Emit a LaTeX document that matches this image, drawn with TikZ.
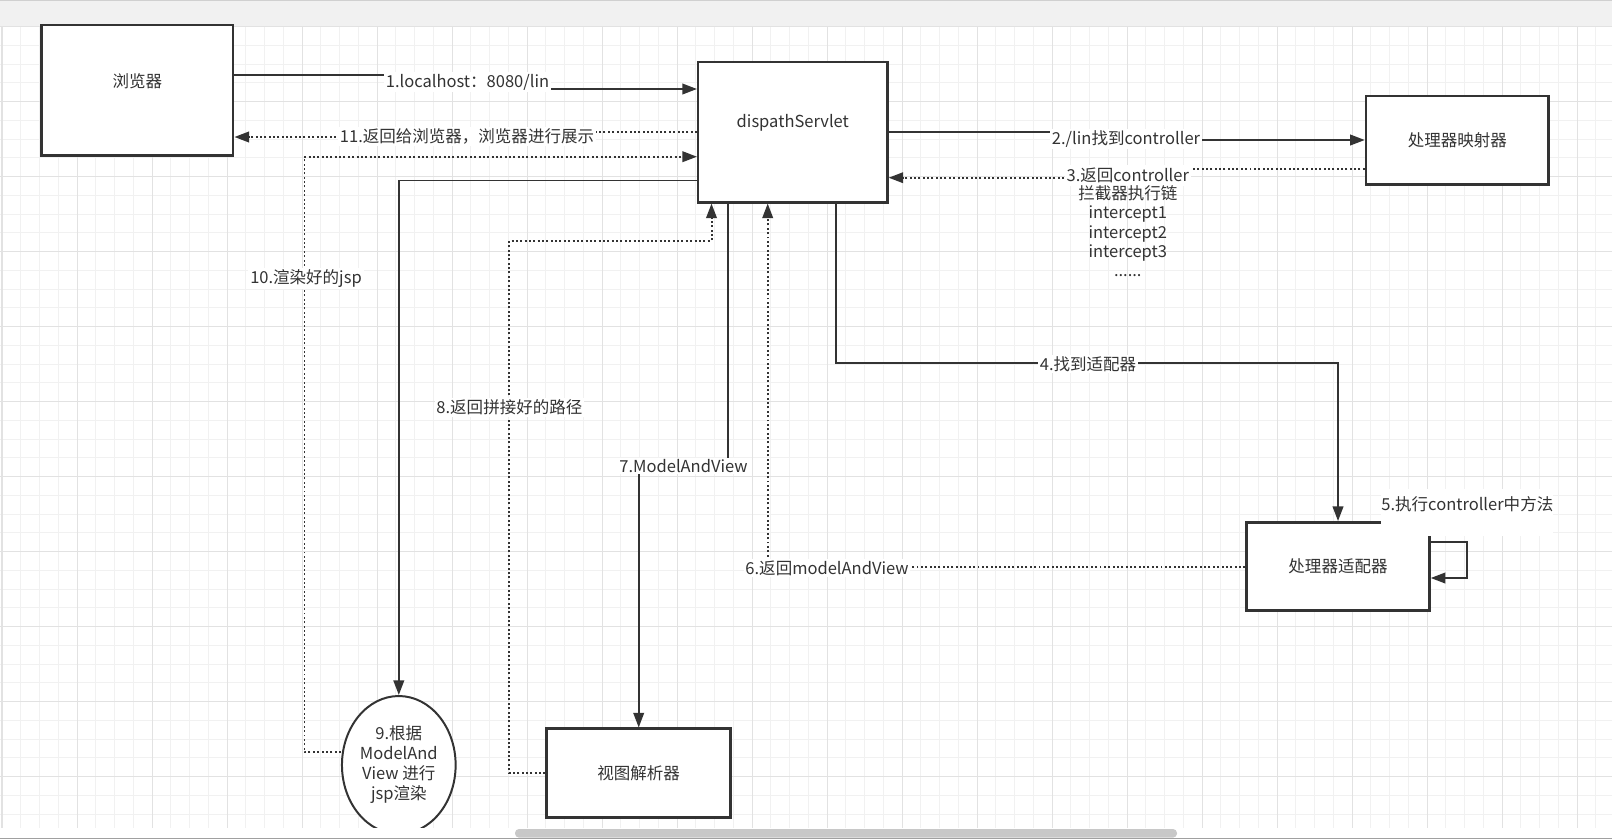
\documentclass[tikz,border=0pt]{standalone}
\usepackage{fontspec}
\setmainfont{Noto Sans CJK SC}
\usetikzlibrary{arrows.meta,calc,shapes.geometric}
\definecolor{ink}{HTML}{333333}
\definecolor{gridminor}{HTML}{F1F1F1}
\definecolor{gridmajor}{HTML}{E2E2E2}
\definecolor{topbar}{HTML}{F1F1F1}
\definecolor{topline}{HTML}{D0D0D0}
\definecolor{scrollc}{HTML}{C8C8C8}
\definecolor{botline}{HTML}{A0A0A0}
\begin{document}
\begin{tikzpicture}[x=0.02cm,y=-0.02cm,
  font=\fontsize{9.4pt}{11pt}\selectfont, text=ink,
  box/.style={draw=ink, fill=white, line width=1.42pt, rectangle, inner sep=0pt},
  edge/.style={draw=ink, line width=1.13pt, -{Triangle[length=8.3pt,width=6pt]}},
  dotedge/.style={edge, dash pattern=on 1.13pt off 1.35pt},
  elabel/.style={fill=white, inner sep=1pt, text=ink},
  gmin/.style={draw=gridminor, line width=0.57pt},
  gmaj/.style={draw=gridmajor, line width=0.57pt}]
\useasboundingbox (0,0) rectangle (1612,839);
\fill[white] (0,0) rectangle (1612,839);
% grid
\foreach \k in {0,...,85}{\pgfmathsetmacro\xx{2+18.75*\k}\draw[gmin] (\xx,26.7) -- (\xx,827.7);}
\foreach \k in {0,...,42}{\pgfmathsetmacro\yy{26.7+18.75*\k}\draw[gmin] (0,\yy) -- (1612,\yy);}
\foreach \k in {0,...,21}{\pgfmathsetmacro\xx{2+75*\k}\draw[gmaj] (\xx,26.7) -- (\xx,827.7);}
\foreach \k in {0,...,10}{\pgfmathsetmacro\yy{26.7+75*\k}\draw[gmaj] (0,\yy) -- (1612,\yy);}
% top bar
\fill[topbar] (0,0) rectangle (1612,26.2);
\draw[topline, line width=0.8pt] (0,0.6) -- (1612,0.6);
% nodes
\node[box, minimum width=3.836cm, minimum height=2.614cm,
  label={[yshift=0.19cm,text=ink]center:浏览器}] (browser) at (137.3,90.35) {};
\node[box, minimum width=3.784cm, minimum height=2.806cm,
  label={[yshift=0.177cm,text=ink]center:dispathServlet}] (dispatch) at (792.8,132.15) {};
\node[box, minimum width=3.654cm, minimum height=1.766cm] (mapper) at (1457.35,140.15) {处理器映射器};
\node[box, minimum width=3.66cm, minimum height=1.764cm] (adapter) at (1338,566.4) {处理器适配器};
\node[box, minimum width=3.68cm, minimum height=1.772cm] (view) at (638.7,773) {视图解析器};
\node[box, ellipse, line width=1.13pt, minimum width=2.274cm, minimum height=2.76cm, align=center,
  font=\fontsize{9.4pt}{11.4pt}\selectfont] (ell) at (398.8,765) {9.根据\\ModelAnd\\View 进行\\jsp渲染};
% edges
\draw[edge] (browser.east |- 0,75) -- (467,75) -- (467,89) -- (dispatch.west |- 0,89);
\draw[edge] (dispatch.east |- 0,132.3) -- (1126,132.3) -- (1126,140) -- (mapper.west |- 0,140);
\draw[dotedge] (mapper.west |- 0,169) -- (1128,169) -- (1128,177.7) -- (dispatch.east |- 0,177.7);
\draw[edge] (dispatch.south -| 836,0) -- (836,362.7) -- (1338,362.7) -- (adapter.north);
\draw[edge] (adapter.east |- 0,541.7) -- (1466.5,541.7) -- (1466.5,578) -- (adapter.east |- 0,578);
\draw[dotedge] (adapter.west |- 0,567) -- (767.7,567) -- (dispatch.south -| 767.7,0);
\draw[edge] (dispatch.south -| 727.5,0) -- (727.5,466) -- (638.7,466) -- (view.north);
\draw[dotedge] (view.west |- 0,773.3) -- (509.4,773.3) -- (509.4,240.7) -- (711.5,240.7) -- (dispatch.south -| 711.5,0);
\draw[edge] (dispatch.west |- 0,180.5) -- (398.8,180.5) -- (ell.north);
\draw[dotedge] (ell.west |- 0,752.3) -- (304.5,752.3) -- (304.5,156.7) -- (dispatch.west |- 0,156.7);
\draw[dotedge] (dispatch.west |- 0,132) -- (467,132) -- (467,137) -- (browser.east |- 0,137);
% edge labels
\node[elabel] (l1) at (467.5,82) {1.localhost：8080/lin};
\node[elabel] (l2) at (1126,139.3) {2./lin找到controller};
\node[elabel, inner ysep=2pt] (l3) at (1127.8,175.5) {3.返回controller};
\node[anchor=north, align=center, inner sep=0pt, text=ink, font=\fontsize{9.4pt}{10.9pt}\selectfont] (l3b) at (1127.8,185.5)
  {拦截器执行链\\intercept1\\intercept2\\intercept3\\......};
\node[elabel] (l4) at (1088,364) {4.找到适配器};
\node[fill=white, inner sep=0pt, anchor=north west, minimum width=3.44cm,
  text height=11.9pt, text depth=14.7pt] (l5) at (1381,489) {5.执行controller中方法};
\node[elabel] (l6) at (827,568) {6.返回modelAndView};
\node[elabel] (l7) at (683.5,466) {7.ModelAndView};
\node[elabel] (l8) at (509.4,407.3) {8.返回拼接好的路径};
\node[elabel] (l10) at (306,278.5) {10.渲染好的jsp};
\node[elabel] (l11) at (467,136.5) {11.返回给浏览器，浏览器进行展示};
% bottom strip and scrollbar
\fill[white] (0,827.7) rectangle (1612,839);
\fill[scrollc, rounded corners=0.08cm] (515,829) rectangle (1177,837.6);
\draw[botline, line width=0.7pt] (0,838.4) -- (1612,838.4);
\end{tikzpicture}
\end{document}
